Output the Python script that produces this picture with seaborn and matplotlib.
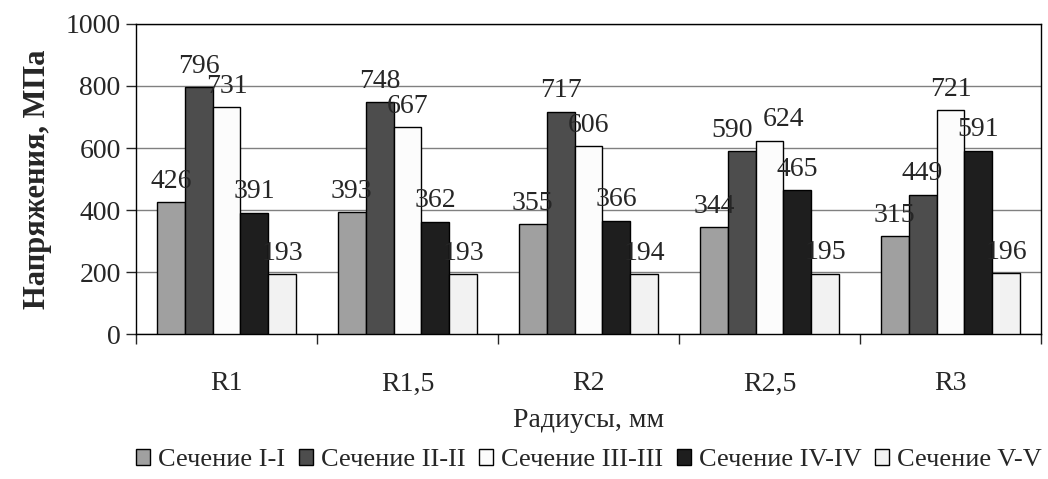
import numpy as np
import pandas as pd
import seaborn as sns
from matplotlib import pyplot as plt
from matplotlib.patches import Patch

radii = ["R1", "R1,5", "R2", "R2,5", "R3"]
sections = ["Сечение I-I", "Сечение II-II", "Сечение III-III", "Сечение IV-IV", "Сечение V-V"]
sec_1 = [426, 393, 355, 344, 315]
sec_2 = [796, 748, 717, 590, 449]
sec_3 = [731, 667, 606, 624, 721]
sec_4 = [391, 362, 366, 465, 591]
sec_5 = [193, 193, 194, 195, 196]
colors = ["#a0a0a0", "#4d4d4d", "#fcfcfc", "#1e1e1e", "#f2f2f2"]

rows = []
for name, vals in zip(sections, [sec_1, sec_2, sec_3, sec_4, sec_5]):
    for r, v in zip(radii, vals):
        rows.append({"radius": r, "section": name, "value": v})
df = pd.DataFrame(rows)

sns.set_style("white")
plt.rcParams["font.family"] = ["Liberation Serif", "DejaVu Serif"]

fig = plt.figure(figsize=(10.48, 4.79), dpi=100)
ax = fig.add_axes([136 / 1048, 1 - 334 / 479, (1041 - 136) / 1048, (334 - 24) / 479])

sns.barplot(data=df, x="radius", y="value", hue="section", palette=colors,
            edgecolor="black", linewidth=1, width=0.77, gap=0, ax=ax,
            legend=False, zorder=3)

# подписи значений над столбцами
labels = []
for c in ax.containers:
    labels.append(ax.bar_label(c, fmt="%d", padding=6, fontsize=20, zorder=4))

# в группе R2,5 подписи 590 и 624 разведены, как в оригинале
x0, y0 = labels[1][3].xyann
labels[1][3].xyann = (x0 - 7, y0)
x0, y0 = labels[2][3].xyann
labels[2][3].xyann = (x0 + 10, y0)

ax.set_ylim(0, 1000)
ax.set_xlim(-0.5, 4.5)
ax.set_yticks([0, 200, 400, 600, 800, 1000])
ax.yaxis.grid(True, color="#808080", linewidth=1, zorder=0)
ax.set_axisbelow(True)

for s in ax.spines.values():
    s.set_color("black")
    s.set_linewidth(1)

ax.tick_params(axis="y", direction="out", length=7, width=1, labelsize=20, left=True, pad=4)
ax.tick_params(axis="x", which="major", length=0, labelsize=20, pad=27)
ax.set_xticks(np.arange(-0.5, 5, 1), minor=True)
ax.tick_params(axis="x", which="minor", direction="out", length=7, width=1, bottom=True)

ax.set_xlabel("Радиусы, мм", fontsize=20, labelpad=8)
ax.set_ylabel("Напряжения, МПа", fontsize=22, fontweight="bold", labelpad=10)

handles = [Patch(facecolor=col, edgecolor="black", linewidth=1) for col in colors]
fig.legend(handles, sections, loc="center", bbox_to_anchor=(589 / 1048, 1 - 460 / 479),
           ncol=5, frameon=False, fontsize=19, handlelength=0.55, handleheight=0.55,
           handletextpad=0.3, columnspacing=0.5)

plt.savefig("out.png", dpi=100)
